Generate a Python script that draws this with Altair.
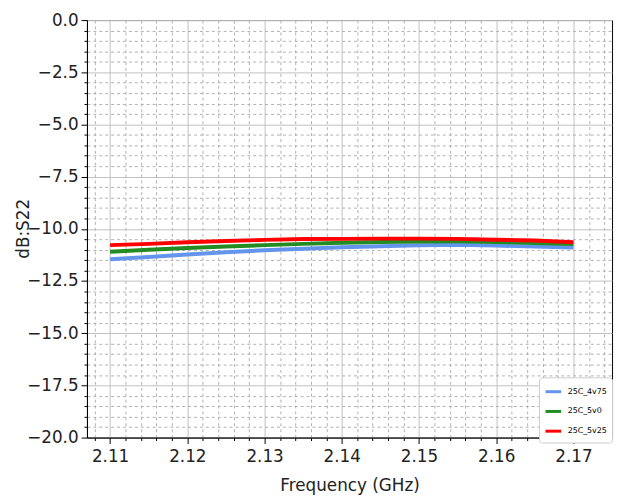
import altair as alt
import pandas as pd

freq = [2.110, 2.115, 2.120, 2.125, 2.130, 2.135, 2.140, 2.145, 2.150, 2.155, 2.160, 2.165, 2.170]
s_4v75 = [-11.46, -11.35, -11.23, -11.12, -11.03, -10.95, -10.88, -10.83, -10.79, -10.76, -10.80, -10.85, -10.89]
s_5v0 = [-11.10, -11.00, -10.92, -10.85, -10.78, -10.72, -10.67, -10.63, -10.61, -10.60, -10.63, -10.68, -10.73]
s_5v25 = [-10.78, -10.72, -10.64, -10.58, -10.53, -10.49, -10.48, -10.47, -10.47, -10.48, -10.52, -10.56, -10.64]
series = ["25C_4v75", "25C_5v0", "25C_5v25"]
colors = ["#6495ED", "#228B22", "#FF0000"]

x_ticks = [round(2.108 + 0.002 * i, 3) for i in range(34)]
y_ticks = [-20 + 0.5 * i for i in range(41)]

rows = []
for name, vals in zip(series, [s_4v75, s_5v0, s_5v25]):
    for f, v in zip(freq, vals):
        rows.append({"f": f, "v": v, "s": name})
df = pd.DataFrame(rows)

x_major = "abs(datum.value*100 - round(datum.value*100)) < 0.000001"
y_major = "abs(datum.value/2.5 - round(datum.value/2.5)) < 0.000001"

chart = alt.Chart(df).mark_line(strokeWidth=4).encode(
    x=alt.X("f:Q", scale=alt.Scale(domain=[2.107, 2.175], nice=False, zero=False),
            axis=alt.Axis(title="Frequency (GHz)", values=x_ticks, format=".2f",
                          labelExpr=f"({x_major}) ? datum.label : ''",
                          tickSize={"condition": {"test": x_major, "value": 6}, "value": 3},
                          gridDash={"condition": {"test": x_major, "value": []}, "value": [3, 3]},
                          gridColor={"condition": {"test": x_major, "value": "#c0c0c0"}, "value": "#b0b0b0"},
                          labelOverlap=False, labelPadding=5, titlePadding=14)),
    y=alt.Y("v:Q", scale=alt.Scale(domain=[-20, 0], nice=False),
            axis=alt.Axis(title="dB:S22", values=y_ticks, format=".1f",
                          labelExpr=f"({y_major}) ? datum.label : ''",
                          tickSize={"condition": {"test": y_major, "value": 6}, "value": 3},
                          gridDash={"condition": {"test": y_major, "value": []}, "value": [3, 3]},
                          gridColor={"condition": {"test": y_major, "value": "#c0c0c0"}, "value": "#b0b0b0"},
                          labelOverlap=False, labelPadding=3,
                          titleX=-59, titleY=211, titleAngle=-90, titleAlign="center",
                          titleBaseline="alphabetic")),
    color=alt.Color("s:N", scale=alt.Scale(domain=series, range=colors),
                    legend=alt.Legend(title=None, orient="none", legendX=458, legendY=362,
                                      symbolType="stroke", symbolStrokeWidth=3, symbolSize=250,
                                      labelFontSize=8, labelFont="DejaVu Sans", labelOffset=5,
                                      strokeColor="#cccccc", fillColor="white", padding=5,
                                      cornerRadius=3, rowPadding=4)),
).properties(
    width=532, height=423,
    autosize=alt.AutoSizeParams(type="none"),
    padding={"left": 80, "top": 9, "right": 4, "bottom": 60},
).configure_view(stroke="black", strokeWidth=1).configure_axis(
    labelFont="DejaVu Sans", titleFont="DejaVu Sans", labelFontSize=17, titleFontSize=17,
    titleFontWeight="normal", labelColor="#222", titleColor="#222",
    domainColor="black", tickColor="black", gridWidth=1
)

chart.save("out.html", embed_options={"renderer": "svg", "actions": False})
